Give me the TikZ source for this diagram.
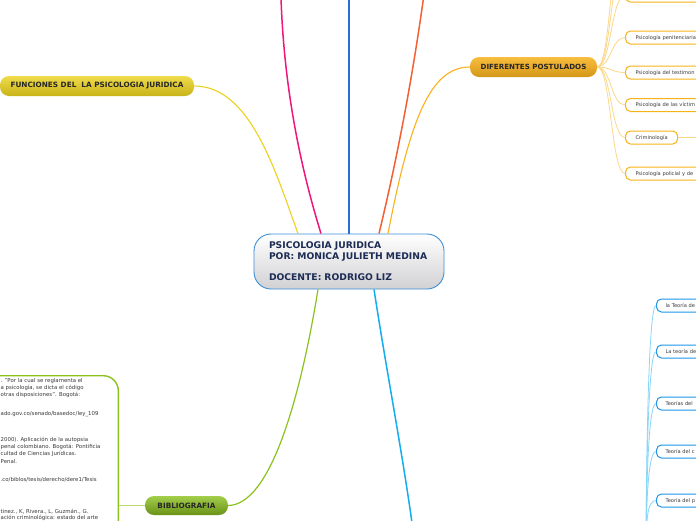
\documentclass[tikz,border=0pt]{standalone}
\usepackage{fontspec}
\setmainfont{DejaVu Sans}
\usetikzlibrary{calc}
\definecolor{cBorder}{HTML}{3A8FD6}
\definecolor{cNavy}{HTML}{1C2C54}
\definecolor{cMag}{HTML}{F0177A}
\definecolor{cBlueTop}{HTML}{2B6FD6}
\definecolor{cOrRed}{HTML}{F26033}
\definecolor{cYelOr}{HTML}{F9B21C}
\definecolor{cYel}{HTML}{ECD21E}
\definecolor{cGreen}{HTML}{8CC21E}
\definecolor{cBlueBot}{HTML}{14AEF0}
\definecolor{cOrLight}{HTML}{FCD88A}
\definecolor{cBlueLight}{HTML}{8AD6F7}
\definecolor{cBlueChild}{HTML}{1C96EA}
\definecolor{cOrChild}{HTML}{F7B316}
\definecolor{cTxt}{HTML}{3A3A3A}
\tikzset{
  mainbox/.style={draw=cBorder, line width=0.9pt, rounded corners=17pt,
    top color=white, bottom color=black!2!blue!3!gray!35,
    minimum height=55pt, text width=160pt, inner xsep=15pt, align=left,
    text=cNavy, font=\fontsize{9.2}{10.7}\selectfont\bfseries},
  pill/.style={rounded corners=9pt, inner sep=0pt, text=black!85,
    font=\fontsize{7.3}{8}\selectfont\bfseries},
  funcbox/.style={pill, top color=cYel!80!white, bottom color=cYel!85!black,
    minimum width=194pt, minimum height=20pt},
  postbox/.style={pill, top color=cYelOr!85!white, bottom color=cYelOr!85!black,
    minimum width=127pt, minimum height=20pt, font=\fontsize{7.1}{8}\selectfont\bfseries},
  bibbox/.style={pill, top color=cGreen!80!white, bottom color=cGreen!75!black,
    minimum width=83pt, minimum height=19pt},
  pchild/.style={draw=cOrChild, line width=1pt, fill=white, rounded corners=5pt,
    minimum height=13pt, anchor=west, inner xsep=10pt, inner ysep=0pt,
    text=cTxt, font=\fontsize{5.1}{6}\selectfont},
  bchild/.style={draw=cBlueChild, line width=1pt, fill=white, rounded corners=5pt,
    minimum height=13pt, anchor=west, inner xsep=9pt, inner ysep=0pt,
    text=cTxt, font=\fontsize{5.1}{6}\selectfont, text width=120pt, align=left},
  bibtxt/.style={anchor=west, inner sep=0pt, text=cTxt, font=\fontsize{5.4}{6}\selectfont},
  plink/.style={draw=cOrLight, line width=0.8pt},
  blink/.style={draw=cBlueLight, line width=0.8pt},
}
\begin{document}
\begin{tikzpicture}[x=1pt,y=-1pt]
\useasboundingbox (0,0) rectangle (696,520);
\fill[white] (0,0) rectangle (696,520);
\begin{scope}
\clip (0,0) rectangle (696,520);

% hidden end points
\coordinate (mTop) at (281,-2);
\coordinate (bTop) at (349,-2);
\coordinate (oTop) at (423.5,-2);
\coordinate (bBot) at (413,530);
\coordinate (bsrc) at (646,560);

% main node
\node[mainbox] (center) at (349,261.5) {PSICOLOGIA JURIDICA\\POR: MONICA JULIETH MEDINA\\\mbox{}\\DOCENTE: RODRIGO LIZ};

% level-1 nodes
\node[funcbox] (func) at (97,86) {FUNCIONES DEL\ \ LA PSICOLOGIA JURIDICA};
\node[postbox] (post) at (533.5,67) {DIFERENTES POSTULADOS};
\node[bibbox] (bib) at (186.5,505.5) {BIBLIOGRAFIA};

% main connectors
\draw[cMag, line width=1.5pt] ($(center.north)+(-28,0)$) .. controls (297,156) and (283.7,78) .. (mTop);
\draw[cBlueTop, line width=1.5pt] (center.north) -- (bTop);
\draw[cOrRed, line width=1.5pt] ($(center.north)+(30,0)$) .. controls (397.7,156) and (412.3,78) .. (oTop);
\draw[cYelOr, line width=1.1pt] ($(center.north)+(39,0)$) .. controls (410,120) and (430,67) .. (post.west);
\draw[cYel, line width=1.1pt] ($(center.north)+(-51,0)$) .. controls (275,170) and (250,86) .. (func.east);
\draw[cGreen, line width=1.2pt] ($(center.south)+(-31,0)$) .. controls (300,400) and (270,505) .. (bib.east);
\draw[cBlueBot, line width=1.5pt] ($(center.south)+(25,0)$) .. controls (388,380) and (402,450) .. (bBot);

% postulados children
\node[pchild, text width=100pt] (p00) at (625,-75) {};
\node[pchild, text width=100pt] (p01) at (625,-40) {};
\node[pchild, text width=100pt] (p0) at (625,-4.5) {};
\node[pchild, text width=100pt] (p1) at (625,37.5) {Psicología penitenciaria};
\node[pchild, text width=100pt] (p2) at (625,72.5) {Psicología del testimon};
\node[pchild, text width=100pt] (p3) at (625,105) {Psicología de las víctim};
\node[pchild] (p4) at (625,137.5) {Criminología};
\node[pchild, text width=100pt] (p5) at (625,173.5) {Psicología policial y de};
\foreach \c in {p00,p01,p0,p1,p2,p3,p4,p5}
  \draw[plink] (post.east) .. controls +(14,0) and +(-14,0) .. (\c.west);
\coordinate (p4r) at ($(p4.east)+(30,0)$);
\draw[plink] (p4.east) -- (p4r);

% blue children
\node[bchild] (b1) at (656,305.5) {la Teoría de};
\node[bchild] (b2) at (656,351.5) {La teoría de};
\node[bchild] (b3) at (656,403.5) {Teorías del};
\node[bchild] (b4) at (656,451.5) {Teoría del c};
\node[bchild] (b5) at (656,500.5) {Teoría del p};
\foreach \c in {b1,b2,b3,b4,b5}
  \draw[blink] (bsrc) .. controls +(0,-40) and +(-9,0) .. (\c.west);

% bibliography box
\node[draw=cGreen, line width=1.4pt, fill=white, rounded corners=15pt,
      minimum width=170pt, minimum height=200pt, anchor=north east] (bibtext) at (119,375) {};
\draw[cGreen!60, line width=0.8pt] (bib.west) -- (bib.west -| bibtext.east);
\node[bibtxt] (t1) at (0.5,381) {. "Por la cual se reglamenta el};
\node[bibtxt] (t2) at (0.5,388) {a psicología, se dicta el código};
\node[bibtxt] (t3) at (0.5,395) {otras disposiciones". Bogotá:};
\node[bibtxt] (t4) at (0.5,414) {ado.gov.co/senado/basedoc/ley\_109};
\node[bibtxt] (t5) at (0.5,440) {2000). Aplicación de la autopsia};
\node[bibtxt] (t6) at (0.5,447) {penal colombiano. Bogotá: Pontificia};
\node[bibtxt] (t7) at (0.5,454) {cultad de Ciencias Jurídicas.};
\node[bibtxt] (t8) at (0.5,461) {Penal.};
\node[bibtxt] (t9) at (0.5,480) {.co/biblos/tesis/derecho/dere1/Tesis};
\node[bibtxt] (t10) at (0.5,512) {tinez., K, Rivera., L, Guzmán., G.};
\node[bibtxt] (t11) at (0.5,517.5) {ación criminológica: estado del arte};
\end{scope}
\end{tikzpicture}
\end{document}
